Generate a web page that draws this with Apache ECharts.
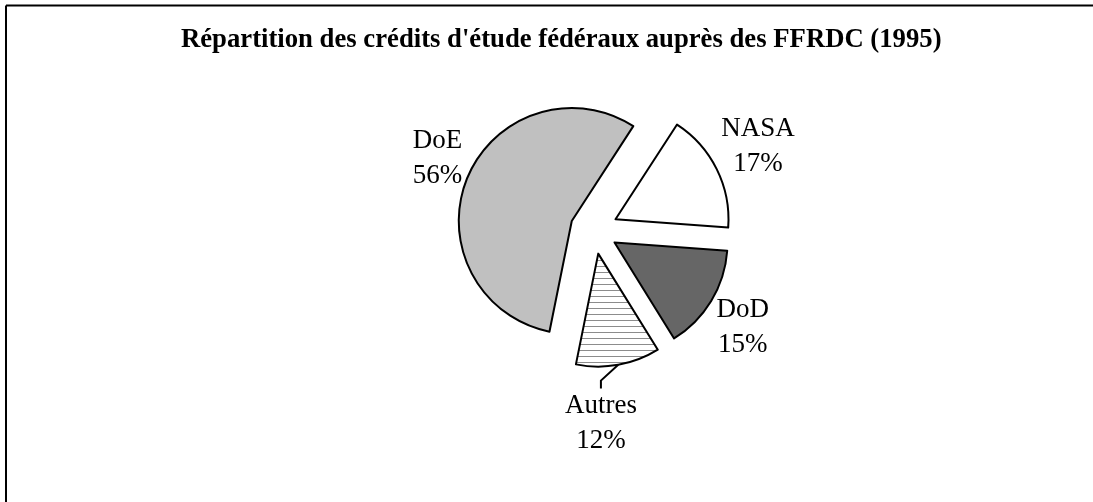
<!DOCTYPE html>
<html>
<head>
<meta charset="utf-8">
<script src="https://cdn.jsdelivr.net/npm/echarts@6/dist/echarts.min.js"></script>
<style>
  html, body { margin: 0; padding: 0; background: #fff; }
  #cha { width: 1093px; height: 502px; }
</style>
</head>
<body>
<div id="cha"></div>
<script>
  // données du graphique (parts en %)
  const categories = ['NASA', 'DoD', 'Autres', 'DoE'];
  const shares = [17, 15, 12, 56];
  const titleText = "Répartition des crédits d'étude fédéraux auprès des FFRDC (1995)";

  // trame hachurée pour "Autres"
  function hatch() {
    const c = document.createElement('canvas');
    c.width = 6; c.height = 6;
    const ctx = c.getContext('2d');
    ctx.fillStyle = '#fff';
    ctx.fillRect(0, 0, 6, 6);
    ctx.fillStyle = '#8c8c8c';
    ctx.fillRect(0, 2, 6, 1);
    return c;
  }

  const fills = {
    NASA: '#ffffff',
    DoD: '#666666',
    Autres: { image: hatch(), repeat: 'repeat' },
    DoE: '#c0c0c0'
  };

  const cx = 594, cy = 230, R = 113, explode = 24, startAngle = 57;
  // étiquettes : [écart à l'angle médian (deg), distance au sommet de la part]
  const labelPlace = {
    NASA: [0.6, 160],
    DoD: [-2.4, 154],
    Autres: [-9.3, 170],
    DoE: [-2.6, 148]
  };

  const total = shares.reduce((a, b) => a + b, 0);
  function midAngle(i) {
    let before = 0;
    for (let k = 0; k < i; k++) before += shares[k];
    return startAngle - (before + shares[i] / 2) / total * 360;
  }
  function sliceCenter(i) {
    const m = midAngle(i) * Math.PI / 180;
    return [cx + explode * Math.cos(m), cy - explode * Math.sin(m)];
  }

  const chart = echarts.init(document.getElementById('cha'));

  // une série par part, décalée le long de son angle médian (part éclatée)
  const series = categories.map(function (name, i) {
    const c = sliceCenter(i);
    return {
      type: 'pie',
      center: c,
      radius: R,
      startAngle: startAngle,
      clockwise: true,
      silent: true,
      avoidLabelOverlap: false,
      label: {
        position: 'outside',
        formatter: '{b}\n{c}%',
        fontFamily: 'Liberation Serif',
        fontSize: 27,
        lineHeight: 35,
        color: '#000'
      },
      labelLine: {
        length: 8,
        length2: 8,
        smooth: false,
        lineStyle: { color: '#000', width: 2 }
      },
      labelLayout: function (p) {
        if (p.dataIndex !== i) return {};
        const a = (midAngle(i) + labelPlace[name][0]) * Math.PI / 180;
        const d = labelPlace[name][1];
        return {
          x: c[0] + d * Math.cos(a),
          y: c[1] - d * Math.sin(a),
          align: 'center',
          verticalAlign: 'middle'
        };
      },
      data: categories.map(function (n, j) {
        const mine = j === i;
        return {
          name: n,
          value: shares[j],
          itemStyle: mine
            ? { color: fills[n], borderColor: '#000', borderWidth: 2 }
            : { color: 'rgba(0,0,0,0)', borderWidth: 0 },
          label: { show: mine },
          labelLine: { show: mine && n === 'Autres' }
        };
      })
    };
  });

  chart.setOption({
    animation: false,
    backgroundColor: '#fff',
    title: {
      text: titleText,
      left: 176,
      top: 22,
      textStyle: {
        fontFamily: 'Liberation Serif',
        fontWeight: 'bold',
        fontSize: 26.7,
        color: '#000'
      }
    },
    graphic: [
      { type: 'line', shape: { x1: 6, y1: 5.5, x2: 1093, y2: 5.5 }, style: { stroke: '#000', lineWidth: 2 } },
      { type: 'line', shape: { x1: 6, y1: 5.5, x2: 6, y2: 502 }, style: { stroke: '#000', lineWidth: 2 } }
    ],
    series: series
  });
</script>
</body>
</html>
